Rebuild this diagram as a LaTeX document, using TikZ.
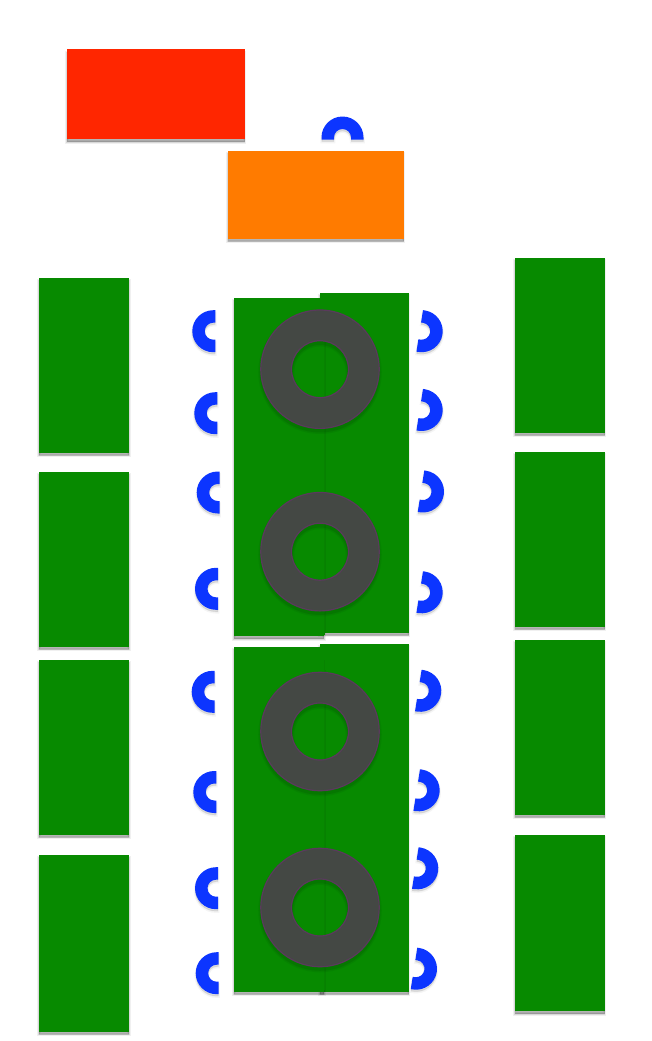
\documentclass[tikz,border=0pt]{standalone}
\definecolor{gcol}{HTML}{078A00}
\definecolor{seamcol}{HTML}{078300}
\definecolor{bcol}{HTML}{0C35FF}
\definecolor{rcol}{HTML}{FF2600}
\definecolor{ocol}{HTML}{FF7B00}
\definecolor{ringcol}{HTML}{444844}
\definecolor{ringedge}{HTML}{5A3A5C}
\tikzset{
  softshadow/.style={
    preaction={draw=black,fill=black,draw opacity=.06,fill opacity=.06,line width=3.5pt,transform canvas={yshift=-3pt}},
    preaction={draw=black,fill=black,draw opacity=.10,fill opacity=.10,line width=1.5pt,transform canvas={yshift=-3pt}},
    preaction={fill=black,fill opacity=.16,transform canvas={yshift=-2.5pt}}},
  lightshadow/.style={
    preaction={draw=black,fill=black,draw opacity=.04,fill opacity=.04,line width=2.5pt,transform canvas={yshift=-2.5pt}},
    preaction={fill=black,fill opacity=.10,transform canvas={yshift=-2pt}}},
  plate/.style={fill=gcol,softshadow},
  cmark/.style={fill=bcol,lightshadow},
  ringshadow/.style={draw=black,draw opacity=#1},
  ringface/.style={draw=ringcol,line width=31pt},
  ringedgeline/.style={draw=ringedge,line width=1.2pt},
  seam/.style={draw=seamcol,line width=.6pt}
}
\newcommand{\cshape}[3]{%
  \path[cmark,shift={(#1,-#2)},rotate=#3]
    (2,-21) -- (0,-21) arc[start angle=-90,end angle=-270,radius=21]
    -- (2,21) -- (2,8.5) -- (0,8.5) arc[start angle=90,end angle=270,radius=8.5]
    -- (2,-8.5) -- cycle;}
\newcommand{\plate}[4]{\path[plate] (#1,-#2) rectangle (#3,-#4);}
\newcommand{\ring}[2]{%
  \draw[ringshadow=.05,line width=36pt] (#1,-#2-3) circle[radius=43.75];
  \draw[ringshadow=.08,line width=33pt] (#1,-#2-3) circle[radius=43.75];
  \draw[ringface] (#1,-#2) circle[radius=43.75];
  \draw[ringedgeline] (#1,-#2) circle[radius=59.2];
  \draw[ringedgeline] (#1,-#2) circle[radius=28.5];}
\begin{document}
\begin{tikzpicture}[x=1pt,y=1pt]
\useasboundingbox (0,0) rectangle (651,-1041);
% C marks behind everything
\cshape{342.5}{137.5}{-90}
\foreach \cx/\cy in {213.3/331.2,215.3/413.2,217.7/492.5,216/588.8,212.7/691.8,214.3/792,216/888.2,216.7/973.2}
  {\cshape{\cx}{\cy}{0}}
\foreach \cx/\cy in {421.7/331.2,421.7/410,423/491.5,421.7/592.3,420.3/690.8,418.7/790.3,417.3/868.3,416/968.7}
  {\cshape{\cx}{\cy}{171}}
% top bars
\path[fill=rcol,softshadow] (67,-49.5) rectangle (244.5,-139);
\path[fill=ocol,softshadow] (227.5,-150.5) rectangle (403.5,-238.5);
% outer columns
\foreach \ya/\yb in {277.5/452.5,471.5/646.5,659.5/834.5,855/1031.5}
  {\plate{39}{\ya}{129}{\yb}}
\foreach \ya/\yb in {257.5/432.5,451.5/626.5,639.5/814.5,835/1011}
  {\plate{514.5}{\ya}{604.5}{\yb}}
% centre column
\plate{320}{293}{408.5}{632.7}
\plate{234}{297.5}{324}{636}
\plate{320}{644}{408.5}{991.7}
\plate{234}{646.7}{324}{991.7}
\fill[gcol] (320,-293) rectangle (330,-320);
\fill[gcol] (320,-644) rectangle (330,-670);
\draw[seam] (324,-320) -- (324,-635);
\draw[seam] (324,-660) -- (324,-990);
% rings
\ring{320}{369.2}
\ring{320}{551.7}
\ring{320}{731.5}
\ring{320}{907.5}
\end{tikzpicture}
\end{document}
